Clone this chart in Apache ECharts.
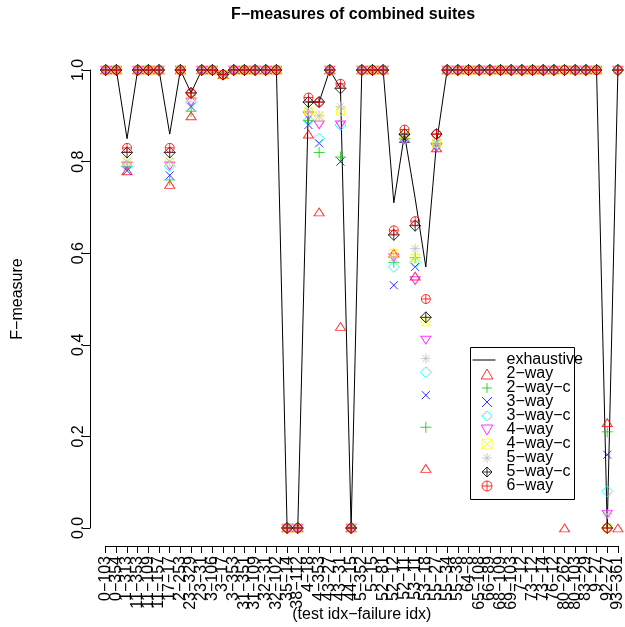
<!DOCTYPE html>
<html><head><meta charset="utf-8">
<script src="https://cdn.jsdelivr.net/npm/echarts@6/dist/echarts.min.js"></script>
<style>html,body{margin:0;padding:0;background:#fff}#c{width:625px;height:627px}</style>
</head><body><div id="c"></div>
<script>
const categories = [
  "0−103","0−354","1−313","11−353","11−109","11−157","17−17","2−253","23−329","23−31",
  "3−106","3−17","3−353","31−351","31−109","32−31","32−102","35−14","38−112","4−18",
  "4−353","43−27","43−31","44−15","5−352","5−15","52−81","52−12","52−11","53−11",
  "53−18","55−27","55−34","55−38","64−8","65−108","66−89","68−109","69−103","7−12",
  "73−12","73−14","76−12","80−262","80−103","83−29","9−27","92−27","93−361"
];
const yTicks = [0, 0.2, 0.4, 0.6, 0.8, 1.0];

const exhaustive = [
  1,1,0.85,1,1,1,0.86,1,0.95,1,
  1,0.99,1,1,1,1,1,0,0,0.93,
  0.93,1,0.96,0,1,1,1,0.71,0.86,0.72,
  0.57,0.84,1,1,1,1,1,1,1,1,
  1,1,1,1,1,1,1,0,1];
const way2 = [
  1,1,0.78,1,1,1,0.75,1,0.90,1,
  1,0.99,1,1,1,1,1,0,0,0.86,
  0.69,1,0.44,0,1,1,1,0.60,0.85,0.55,
  0.13,0.83,1,1,1,1,1,1,1,1,
  1,1,1,0,1,1,1,0.23,0];
const way2c = [
  1,1,0.79,1,1,1,0.76,1,0.91,1,
  1,0.99,1,1,1,1,1,0,0,0.89,
  0.82,1,0.81,0,1,1,1,0.58,0.85,0.59,
  0.22,0.84,1,1,1,1,1,1,1,1,
  1,1,1,1,1,1,1,0.21,1];
const way3 = [
  1,1,0.78,1,1,1,0.77,1,0.92,1,
  1,0.99,1,1,1,1,1,0,0,0.88,
  0.84,1,0.80,0,1,1,1,0.53,0.85,0.57,
  0.29,0.84,1,1,1,1,1,1,1,1,
  1,1,1,1,1,1,1,0.16,1];
const way3c = [
  1,1,0.79,1,1,1,0.79,1,0.93,1,
  1,0.99,1,1,1,1,1,0,0,0.89,
  0.85,1,0.88,0,1,1,1,0.57,0.85,0.58,
  0.34,0.84,1,1,1,1,1,1,1,1,
  1,1,1,1,1,1,1,0.08,1];
const way4 = [
  1,1,0.79,1,1,1,0.79,1,0.93,1,
  1,0.99,1,1,1,1,1,0,0,0.90,
  0.88,1,0.88,0,1,1,1,0.59,0.85,0.54,
  0.41,0.83,1,1,1,1,1,1,1,1,
  1,1,1,1,1,1,1,0.03,1];
const way4c = [
  1,1,0.80,1,1,1,0.80,1,0.94,1,
  1,0.99,1,1,1,1,1,0,0,0.91,
  0.90,1,0.91,0,1,1,1,0.60,0.86,0.59,
  0.45,0.84,1,1,1,1,1,1,1,1,
  1,1,1,1,1,1,1,0,1];
const way5 = [
  1,1,0.80,1,1,1,0.80,1,0.94,1,
  1,0.99,1,1,1,1,1,0,0,0.91,
  0.90,1,0.92,0,1,1,1,0.59,0.86,0.61,
  0.37,0.84,1,1,1,1,1,1,1,1,
  1,1,1,1,1,1,1,0.03,1];
const way5c = [
  1,1,0.82,1,1,1,0.82,1,0.95,1,
  1,0.99,1,1,1,1,1,0,0,0.93,
  0.93,1,0.96,0,1,1,1,0.64,0.86,0.66,
  0.46,0.86,1,1,1,1,1,1,1,1,
  1,1,1,1,1,1,1,0,1];
const way6 = [
  1,1,0.83,1,1,1,0.83,1,0.95,1,
  1,0.99,1,1,1,1,1,0,0,0.94,
  0.93,1,0.97,0,1,1,1,0.65,0.87,0.67,
  0.50,0.86,1,1,1,1,1,1,1,1,
  1,1,1,1,1,1,1,0,1];

const FONT = 'Liberation Sans, Arial, Helvetica, sans-serif';
const SYM = {
  tri: 'path://M5,0L10,8.66L0,8.66Z',
  plus: 'path://M5,0L5,10M0,5L10,5',
  cross: 'path://M0,0L10,10M10,0L0,10',
  diamond: 'path://M5,0L10,5L5,10L0,5Z',
  itri: 'path://M0,0L10,0L5,8.66Z',
  sqx: 'path://M0,0L10,0L10,10L0,10ZM0,0L10,10M10,0L0,10',
  ast: 'path://M5,0L5,10M0,5L10,5M1.46,1.46L8.54,8.54M8.54,1.46L1.46,8.54',
  dplus: 'path://M5,0L10,5L5,10L0,5ZM5,0L5,10M0,5L10,5',
  cplus: 'path://M0,5A5,5,0,1,1,10,5A5,5,0,1,1,0,5ZM5,0L5,10M0,5L10,5',
  line: 'path://M0,0M0,10M29,10M0,5L23,5'
};
const pointSeries = [
  {name: '2−way', data: way2, color: '#FF0000', symbol: SYM.tri, size: [10, 9]},
  {name: '2−way−c', data: way2c, color: '#00CD00', symbol: SYM.plus, size: 11},
  {name: '3−way', data: way3, color: '#0000FF', symbol: SYM.cross, size: 8},
  {name: '3−way−c', data: way3c, color: '#00FFFF', symbol: SYM.diamond, size: 11},
  {name: '4−way', data: way4, color: '#FF00FF', symbol: SYM.itri, size: [10, 9]},
  {name: '4−way−c', data: way4c, color: '#FFFF00', symbol: SYM.sqx, size: 8},
  {name: '5−way', data: way5, color: '#BEBEBE', symbol: SYM.ast, size: 10},
  {name: '5−way−c', data: way5c, color: '#000000', symbol: SYM.dplus, size: 11},
  {name: '6−way', data: way6, color: '#FF0000', symbol: SYM.cplus, size: 9}
];

const series = [{
  name: 'exhaustive', type: 'line', data: exhaustive, symbol: 'none',
  lineStyle: {color: '#000', width: 1}, itemStyle: {color: '#000'},
  clip: false, silent: true, z: 2
}].concat(pointSeries.map(s => ({
  name: s.name, type: 'scatter', data: s.data, symbol: s.symbol, symbolSize: s.size,
  symbolKeepAspect: true,
  itemStyle: {color: 'rgba(0,0,0,0)', borderColor: s.color, borderWidth: 1},
  clip: false, silent: true, z: 3
})));

const legendData = [{
  name: 'exhaustive', icon: SYM.line,
  itemStyle: {color: 'rgba(0,0,0,0)', borderColor: '#000', borderWidth: 1}
}].concat(pointSeries.map(s => s.name));

const chart = echarts.init(document.getElementById('c'), null, {renderer: 'canvas'});
chart.setOption({
  animation: false,
  backgroundColor: '#fff',
  title: {
    text: 'F−measures of combined suites', left: 348, top: 2, textAlign: 'center',
    textStyle: {fontFamily: FONT, fontSize: 16, fontWeight: 'bold', color: '#000'}
  },
  grid: {left: 105.7, right: 7.1, top: 70, bottom: 99, containLabel: false, outerBoundsMode: 'none'},
  graphic: [{
    type: 'rect', left: 468, top: 345, z: 10, silent: true,
    shape: {width: 104, height: 152},
    style: {fill: 'none', stroke: '#000', lineWidth: 1}
  }],
  legend: {
    orient: 'vertical', left: 468, top: 345,
    padding: [7, 0, 5, 4], itemGap: -2, itemWidth: 29, itemHeight: 10,
    borderWidth: 0, selectedMode: false,
    itemStyle: {borderWidth: 1},
    textStyle: {fontFamily: FONT, fontSize: 16, lineHeight: 14, color: '#000'},
    data: legendData
  },
  xAxis: {
    type: 'category', data: categories, boundaryGap: false, offset: 18,
    name: '(test idx−failure idx)', nameLocation: 'middle', nameGap: 61, nameMoveOverlap: false,
    nameTextStyle: {fontFamily: FONT, fontSize: 16, color: '#000'},
    axisLine: {onZero: false, lineStyle: {color: '#000', width: 1}},
    axisTick: {interval: 0, length: 7, lineStyle: {color: '#000'}},
    axisLabel: {interval: 0, rotate: 90, margin: 10, fontFamily: FONT, fontSize: 16, color: '#000'},
    splitLine: {show: false}
  },
  yAxis: {
    type: 'value', min: yTicks[0], max: yTicks[yTicks.length - 1], interval: 0.2, offset: 15.7,
    name: 'F−measure', nameLocation: 'middle', nameGap: 64, nameMoveOverlap: false,
    nameTextStyle: {fontFamily: FONT, fontSize: 16, color: '#000'},
    axisLine: {show: true, lineStyle: {color: '#000', width: 1}},
    axisTick: {show: true, length: 7, lineStyle: {color: '#000'}},
    axisLabel: {rotate: 90, margin: 3, fontFamily: FONT, fontSize: 16, color: '#000',
      formatter: v => v.toFixed(1)},
    splitLine: {show: false}
  },
  series: series
});
</script></body></html>
